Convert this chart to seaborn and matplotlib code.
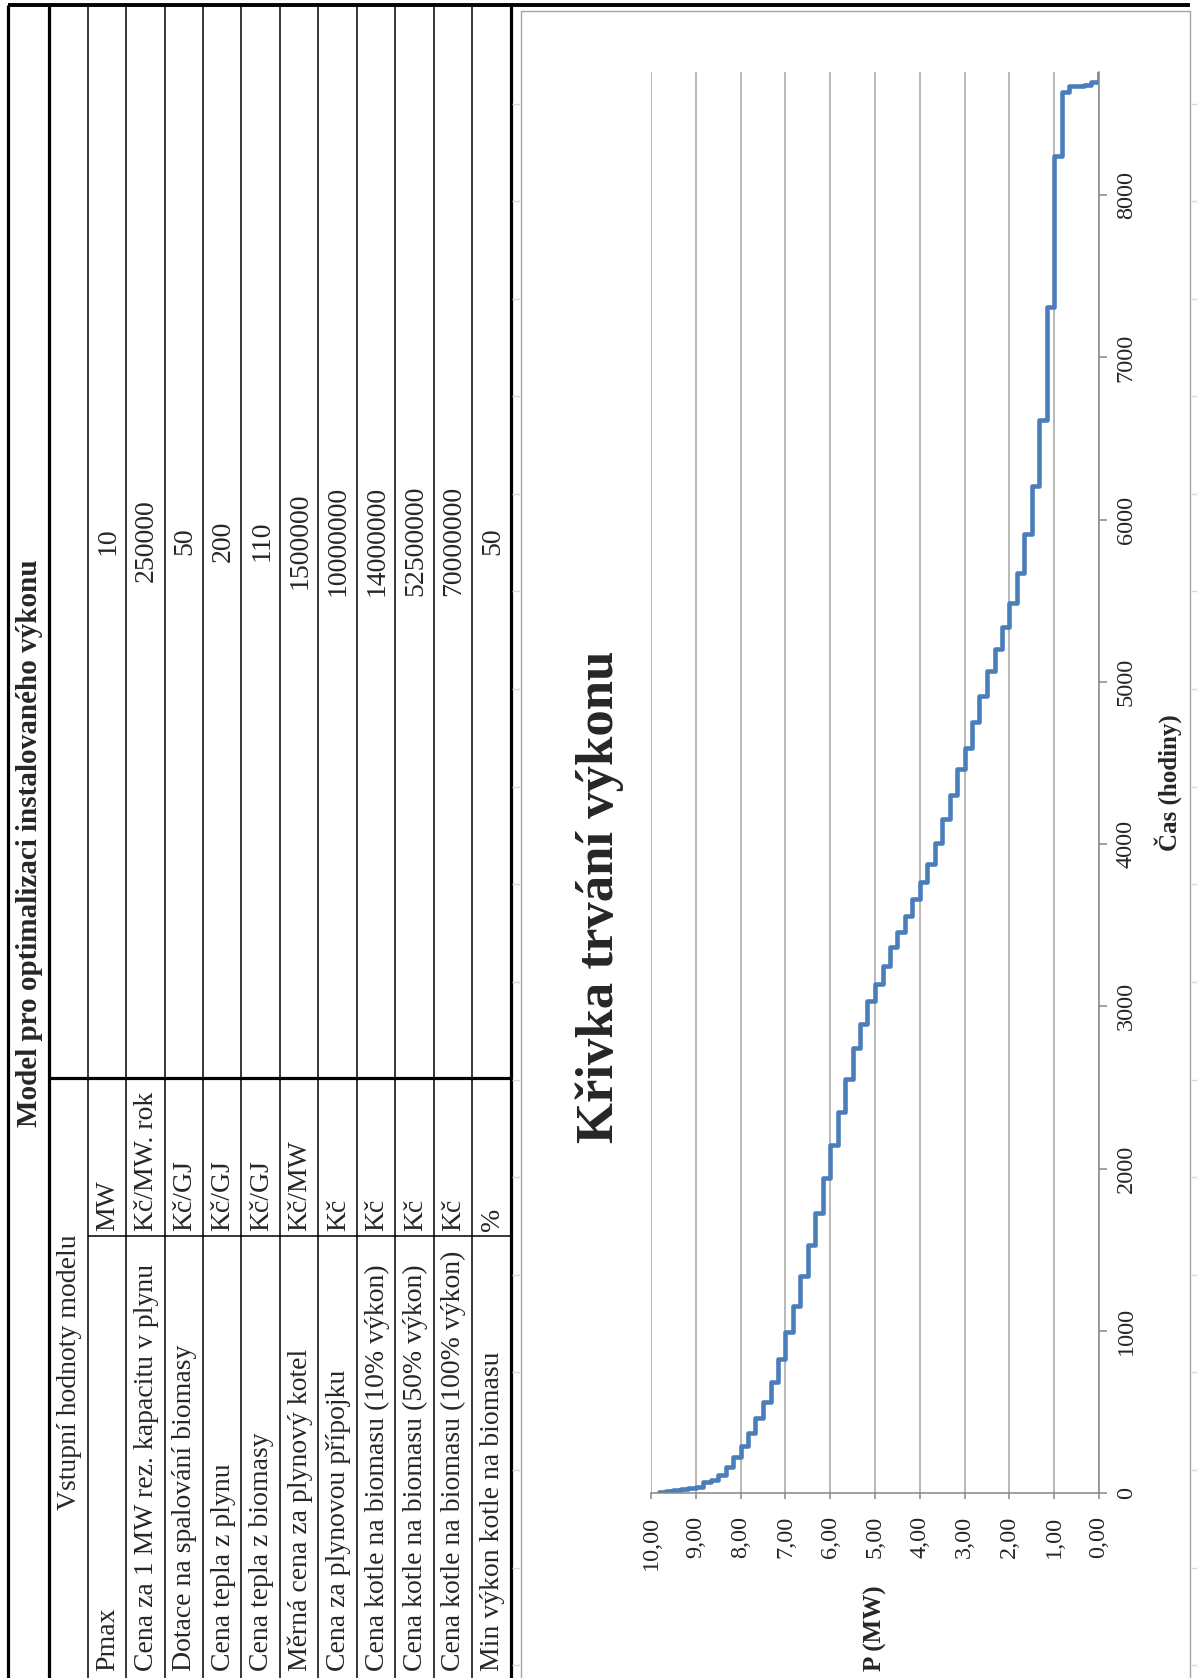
import pandas as pd
import seaborn as sns
import matplotlib.pyplot as plt
from matplotlib.lines import Line2D
from matplotlib.patches import Rectangle

# tabulka vstupnich hodnot modelu
nazvy = [
    "Pmax",
    "Cena za 1 MW rez. kapacitu v plynu",
    "Dotace na spalování biomasy",
    "Cena tepla z plynu",
    "Cena tepla z biomasy",
    "Měrná cena za plynový kotel",
    "Cena za plynovou přípojku",
    "Cena kotle na biomasu (10% výkon)",
    "Cena kotle na biomasu (50% výkon)",
    "Cena kotle na biomasu (100% výkon)",
    "Min výkon kotle na biomasu",
]
jednotky = ["MW", "Kč/MW. rok", "Kč/GJ", "Kč/GJ", "Kč/GJ", "Kč/MW",
            "Kč", "Kč", "Kč", "Kč", "%"]
hodnoty = ["10", "250000", "50", "200", "110", "1500000", "10000000",
           "14000000", "52500000", "70000000", "50"]

# krivka trvani vykonu - hladina vykonu (MW) a cas (h), kdy zacina
vykon = [9.83, 9.67, 9.50, 9.33, 9.17, 9.00, 8.83, 8.67, 8.50, 8.33,
         8.17, 8.00, 7.83, 7.67, 7.50, 7.33, 7.17, 7.00, 6.83, 6.67,
         6.50, 6.33, 6.17, 6.00, 5.83, 5.67, 5.50, 5.33, 5.17, 5.00,
         4.83, 4.67, 4.50, 4.33, 4.17, 4.00, 3.83, 3.67, 3.50, 3.33,
         3.17, 3.00, 2.83, 2.67, 2.50, 2.33, 2.17, 2.00, 1.83, 1.67,
         1.50, 1.33, 1.17, 1.00, 0.83, 0.67, 0.50, 0.33, 0.17, 0.00]
cas_od = [0, 8, 14, 20, 27, 33, 40, 65, 82, 114,
          163, 225, 287, 367, 462, 560, 683, 825, 991, 1153,
          1338, 1528, 1725, 1940, 2147, 2351, 2553, 2743, 2893, 3031,
          3140, 3251, 3366, 3457, 3560, 3662, 3765, 3880, 4004, 4152,
          4300, 4465, 4594, 4752, 4912, 5067, 5200, 5340, 5489, 5669,
          5910, 6208, 6613, 7310, 8244, 8635, 8672, 8676, 8680, 8700]
cas_konec = 8760

p_ticks = [10, 9, 8, 7, 6, 5, 4, 3, 2, 1, 0]
p_labels = ["10,00", "9,00", "8,00", "7,00", "6,00", "5,00",
            "4,00", "3,00", "2,00", "1,00", "0,00"]
t_ticks = [0, 1000, 2000, 3000, 4000, 5000, 6000, 7000, 8000]
t_labels = ["0", "1000", "2000", "3000", "4000", "5000", "6000", "7000", "8000"]

sns.set_style("white")
plt.rcParams["font.family"] = ["Liberation Serif", "DejaVu Serif"]

W, H = 1197, 1678
fig = plt.figure(figsize=(W / 100, H / 100), dpi=100)


def fx(x):
    return x / W


def fy(y):
    return 1 - y / H


def cara(x0, y0, x1, y1, lw=1.1, color="black"):
    fig.add_artist(Line2D([fx(x0), fx(x1)], [fy(y0), fy(y1)],
                          transform=fig.transFigure, color=color, lw=lw,
                          solid_capstyle="butt"))


# --- tabulka (otocena o 90 stupnu) ---
radky = [87.7, 126.3, 164.7, 203, 241.3, 280, 318.3, 356.7,
         395.3, 433.7, 472, 510.7]
for x in radky[:-1]:
    cara(x, 5, x, H)
for x in [8.3, 49.3, 510.7]:
    cara(x, 5, x, H, lw=2.3)
cara(8, 5, 1190, 5, lw=2.8)
cara(49, 1077.5, 511, 1077.5, lw=2.3)
cara(87.7, 1236, 511, 1236)

# svetle mrizky listu mezi tabulkou a grafem
for k in range(17):
    y = 103.5 + 97.6 * k
    cara(511.5, y, 521, y, lw=1, color="#d9d9d9")
    cara(1190, y, W, y, lw=1, color="#d9d9d9")

fig.text(fx(30), fy(843), "Model pro optimalizaci instalovaného výkonu",
         rotation=90, ha="center", va="center", fontsize=21, fontweight="bold")
fig.text(fx(70), fy(1372), "Vstupní hodnoty modelu",
         rotation=90, ha="center", va="center", fontsize=20)

for i in range(len(nazvy)):
    xc = (radky[i] + radky[i + 1]) / 2 + 1
    fig.text(fx(xc), fy(1671), nazvy[i], rotation=90,
             ha="center", va="bottom", fontsize=20)
    fig.text(fx(xc), fy(1231), jednotky[i], rotation=90,
             ha="center", va="bottom", fontsize=20)
    fig.text(fx(xc), fy(541), hodnoty[i], rotation=90,
             ha="center", va="center", fontsize=20)

# ramecek grafu
fig.add_artist(Rectangle((fx(521), fy(1680)), fx(1190 - 521), (1680 - 11) / H,
                         transform=fig.transFigure, fill=False,
                         edgecolor="#a6a6a6", lw=1))

# --- graf ---
xs, ys = [], []
hranice = cas_od[1:] + [cas_konec]
for p, t0, t1 in zip(vykon, cas_od, hranice):
    xs += [p, p]
    ys += [t0, t1]
df = pd.DataFrame({"P": xs, "t": ys})

ax = fig.add_axes([fx(651), 1 - 1493 / H, 448 / W, 1421 / H])
sns.lineplot(data=df, x="P", y="t", sort=False, estimator=None, orient="y",
             color="#4a7ebb", lw=3.3, ax=ax)

ax.set_xlim(10, 0)
ax.set_ylim(0, cas_konec)
ax.set_xticks(p_ticks)
ax.set_xticklabels(p_labels, rotation=90, fontsize=17.5)
ax.yaxis.tick_right()
ax.set_yticks(t_ticks)
ax.set_yticklabels(t_labels, rotation=90, va="center", fontsize=17.5)

ax.tick_params(axis="x", direction="out", length=4.5, width=1.1,
               color="#868686", pad=12, bottom=True)
ax.tick_params(axis="y", direction="out", length=6, width=1.1,
               color="#868686", pad=6, right=True, left=False)

ax.grid(axis="x", color="#a6a6a6", lw=1.1)
ax.grid(axis="y", visible=False)
ax.set_axisbelow(True)
for s in ["top", "left"]:
    ax.spines[s].set_visible(False)
for s in ["bottom", "right"]:
    ax.spines[s].set_color("#868686")
    ax.spines[s].set_linewidth(1.1)

ax.set_xlabel("P (MW)", rotation=90, fontsize=18, fontweight="bold")
ax.xaxis.set_label_coords(0.5, (1493 - 1628) / 1421)
ax.xaxis.label.set(ha="center", va="center")
ax.set_ylabel("Čas (hodiny)", rotation=90, fontsize=18, fontweight="bold")
ax.yaxis.set_label_position("right")
ax.yaxis.set_label_coords((1168 - 651) / 448, 0.5)
ax.yaxis.label.set(ha="center", va="center")

fig.text(fx(600), fy(897), "Křivka trvání výkonu", rotation=90,
         ha="center", va="center", fontsize=38, fontweight="bold")

fig.savefig("out.png", dpi=100)
plt.close()
